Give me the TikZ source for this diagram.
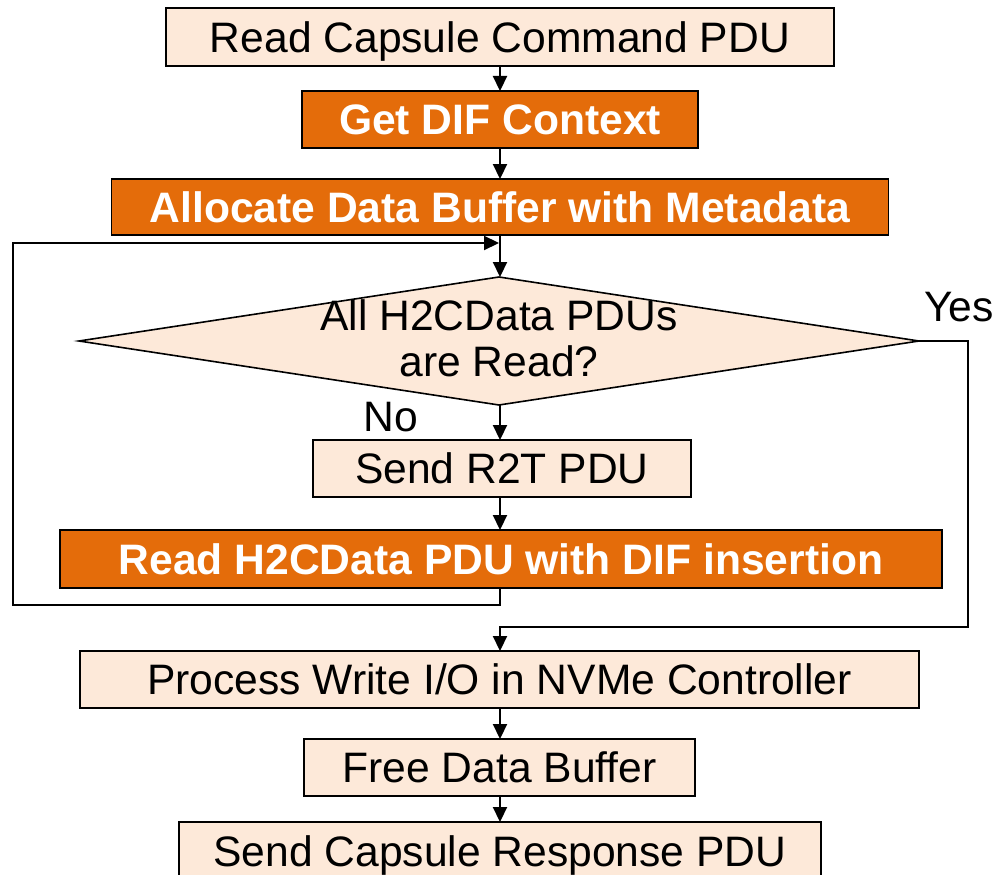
\documentclass[tikz,border=0pt]{standalone}
\usepackage{fontspec}
\setmainfont{Liberation Sans}
\usetikzlibrary{arrows.meta,shapes.geometric}
\definecolor{lightor}{HTML}{FDE9D9}
\definecolor{darkor}{HTML}{E46C0A}
\begin{document}
\begin{tikzpicture}[x=1pt,y=-1pt,
  lbox/.style={draw=black,line width=1.6pt,fill=lightor,inner sep=0pt,outer sep=0pt,
    text height=30.5pt,text depth=0pt,font=\fontsize{42.6}{46}\selectfont},
  obox/.style={lbox,fill=darkor,text=white,font=\fontsize{42.6}{46}\selectfont\bfseries},
  conn/.style={line width=2.2pt,-{Triangle[length=15pt,width=14pt]}},
  lbl/.style={font=\fontsize{42.6}{46}\selectfont,inner sep=0pt,text height=30.5pt,text depth=0pt}]
\useasboundingbox (0,0) rectangle (997,875);
\node[lbox,minimum width=668pt,minimum height=58pt] (b1) at (500,37) {Read Capsule Command PDU};
\node[obox,minimum width=396pt,minimum height=57pt] (b2) at (500,119.5) {Get DIF Context};
\node[obox,minimum width=777pt,minimum height=56pt] (b3) at (500,207) {Allocate Data Buffer with Metadata};
\node[diamond,draw=black,line width=1.6pt,fill=lightor,inner sep=0pt,outer sep=0pt,
  minimum width=840pt,minimum height=128pt] (d) at (499,341) {};
\node[font=\fontsize{42.6}{46}\selectfont,align=center,inner sep=0pt] (dtext) at (499,338) {All H2CData PDUs\\are Read?};
\node[lbox,minimum width=378pt,minimum height=57pt] (b5) at (502,468.5) {Send R2T PDU};
\node[obox,minimum width=882pt,minimum height=58pt] (b6) at (501,559) {Read H2CData PDU with DIF insertion};
\node[lbox,minimum width=839pt,minimum height=57pt] (b7) at (499.5,679.5) {Process Write I/O in NVMe Controller};
\node[lbox,minimum width=391pt,minimum height=57pt] (b8) at (499.5,767.5) {Free Data Buffer};
\node[lbox,minimum width=642pt,minimum height=58pt] (b9) at (500,851) {Send Capsule Response PDU};
\node[lbl] (yes) at (959,306.5) {Yes};
\node[lbl] (no) at (391,416.5) {No};
\coordinate (l1) at (13,605);
\coordinate (l2) at (13,243);
\coordinate (j) at (499,243);
\coordinate (y1) at (968,627);
\coordinate (y2) at (500,627);
\draw[conn] (b1.south -| 500,0) -- (b2.north -| 500,0);
\draw[conn] (b2.south -| 500,0) -- (b3.north -| 500,0);
\draw[conn] (b3.south -| 500,0) -- (d.north -| 500,0);
\draw[conn] (d.south -| 500,0) -- (b5.north -| 500,0);
\draw[conn] (b5.south -| 500,0) -- (b6.north -| 500,0);
\draw[conn] (b6.south -| 500,0) |- (l1) -- (l2) -- (j);
\draw[conn] (d.east) -| (y1) -- (y2) -- (b7.north -| 500,0);
\draw[conn] (b7.south -| 500,0) -- (b8.north -| 500,0);
\draw[conn] (b8.south -| 500,0) -- (b9.north -| 500,0);
\end{tikzpicture}
\end{document}
